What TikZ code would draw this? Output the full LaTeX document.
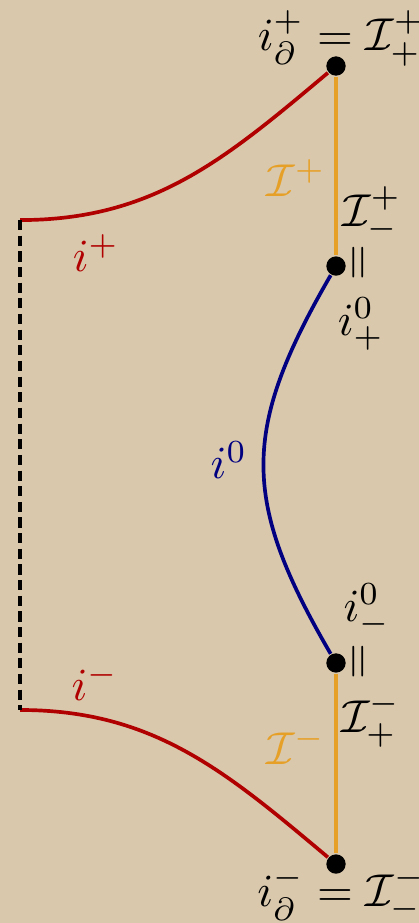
\documentclass[tikz,border=0pt]{standalone}
\usepackage{amsmath,mathtools}
\definecolor{parchment}{RGB}{217,200,172}
\definecolor{scrired}{RGB}{176,0,0}
\definecolor{scriyellow}{RGB}{230,160,40}
\definecolor{scriblue}{RGB}{0,0,128}
\begin{document}
\begin{tikzpicture}[blob/.style={circle,fill=black,inner sep=0pt,minimum size=4.2pt},
    rotequal/.style={rotate=90,inner sep=0pt}]
  \fill[parchment] (0,0) rectangle (3.198,7.046);
  \useasboundingbox (0,0) rectangle (3.198,7.046);
  % corners of the boundary
  \node[blob] (itop) at (2.565,6.542) {};
  \node[blob] (izp) at (2.565,5.015) {};
  \node[blob] (izm) at (2.565,1.985) {};
  \node[blob] (ibot) at (2.565,0.450) {};
  \coordinate (ul) at (0.153,5.366);
  \coordinate (ll) at (0.153,1.626);
  % boundary pieces
  \draw[thick,scriyellow] (itop) -- (izp);
  \draw[thick,scriyellow] (izm) -- (ibot);
  \draw[thick,scriblue] (izp) .. controls (1.840,3.763) and (1.840,3.229) .. (izm);
  \draw[thick,scrired] (ul) to[out=0,in=220] (itop);
  \draw[thick,scrired] (ll) to[out=0,in=140] (ibot);
  \draw[thick,dash pattern=on 2.2pt off 1.2pt] (ul) -- (ll);
  % labels
  \node[anchor=base] (ltop) at (2.557,6.660) {$\mathllap{i^+_\partial} = \mathrlap{\mathcal{I}^+_+}$};
  \node[anchor=base] (lbot) at (2.557,0.126) {$\mathllap{i^-_\partial} = \mathrlap{\mathcal{I}^-_-}$};
  \node[scriyellow] (lscp) at (2.260,5.687) {$\mathcal{I}^+$};
  \node[scriyellow] (lscm) at (2.260,1.351) {$\mathcal{I}^-$};
  \node (lscpm) at (2.840,5.412) {$\mathcal{I}^+_-$};
  \node[rotequal] (eqp) at (2.756,5.038) {$=$};
  \node (lizp) at (2.756,4.573) {$i^0_+$};
  \node (lizm) at (2.802,2.389) {$i^0_-$};
  \node[rotequal] (eqm) at (2.756,1.992) {$=$};
  \node (lscmp) at (2.832,1.550) {$\mathcal{I}^-_+$};
  \node[scrired] (lip) at (0.733,5.115) {$i^+$};
  \node[scrired] (lim) at (0.725,1.840) {$i^-$};
  \node[scriblue] (liz) at (1.748,3.534) {$i^0$};
\end{tikzpicture}
\end{document}
